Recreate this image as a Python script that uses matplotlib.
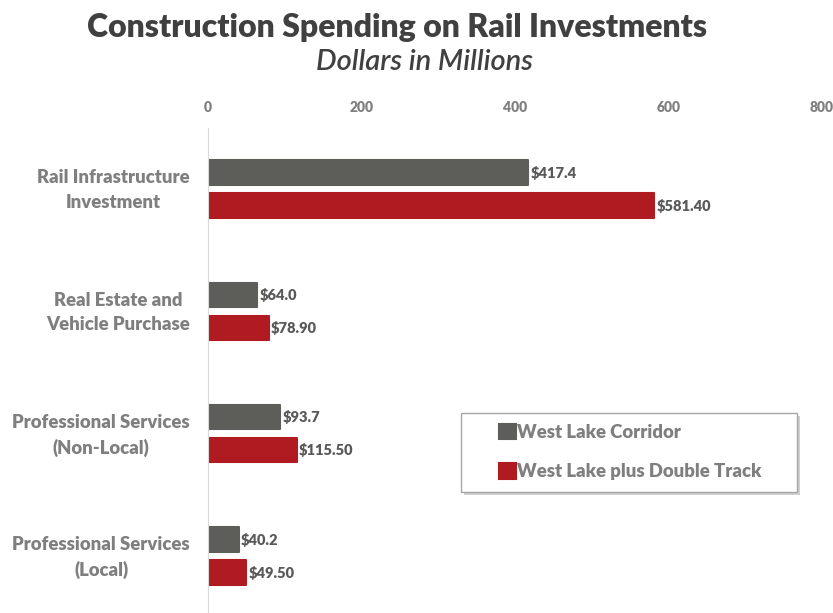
import numpy as np
import matplotlib.pyplot as plt
import matplotlib.transforms as mtransforms
from matplotlib.patches import Rectangle

plt.rcParams['font.family'] = ['Lato', 'DejaVu Sans']

categories = ['Rail Infrastructure\nInvestment',
              'Real Estate and\nVehicle Purchase',
              'Professional Services\n(Non-Local)',
              'Professional Services\n(Local)']
corridor = [417.4, 64.0, 93.7, 40.2]
double_track = [581.40, 78.90, 115.50, 49.50]
series_names = ['West Lake Corridor', 'West Lake plus Double Track']
xticks = [0, 200, 400, 600, 800]

gray = '#5d5e59'
red = '#b01a21'
label_gray = '#7f7f7f'
dark = '#595959'
wt = 'heavy'

W, H = 833, 613
fig = plt.figure(figsize=(W / 100, H / 100), dpi=100)
ax = fig.add_axes([208 / W, 0.0, 614 / W, 485 / H])

y = np.arange(len(categories))
h = 0.2
off = 0.135

b1 = ax.barh(y - off, corridor, height=h, color=gray, edgecolor=gray,
             linewidth=1.5, label=series_names[0])
b2 = ax.barh(y + off, double_track, height=h, color=red, edgecolor=red,
             linewidth=1.5, label=series_names[1])
for p in list(b1) + list(b2):
    p.set_joinstyle('round')

for v, yy in zip(corridor, y - off):
    ax.text(v + 3, yy, f'${v:.1f}', va='center', ha='left',
            fontsize=10.5, fontweight=wt, color=dark)
for v, yy in zip(double_track, y + off):
    ax.text(v + 3, yy, f'${v:.2f}', va='center', ha='left',
            fontsize=10.5, fontweight=wt, color=dark)

ax.set_xlim(0, 800)
ax.set_ylim(3.466, -0.5)
ax.set_xticks(xticks)
ax.set_xticklabels([str(t) for t in xticks], fontweight=wt)
ax.xaxis.tick_top()
ax.tick_params(axis='x', length=0, pad=10, labelsize=10, labelcolor=label_gray)
ax.set_yticks(y)
ax.set_yticklabels(categories, fontsize=13.3, fontweight=wt,
                   color=label_gray, ha='right', multialignment='center',
                   linespacing=1.55)
ax.tick_params(axis='y', length=0, pad=13)
shift = mtransforms.ScaledTranslation(0, 3 / 72, fig.dpi_scale_trans)
for lab in ax.get_yticklabels():
    lab.set_transform(lab.get_transform() + shift)

for s in ['top', 'right', 'bottom']:
    ax.spines[s].set_visible(False)
ax.spines['left'].set_color('#d9d9d9')

fig.text(397 / W, 1 - 27 / H, 'Construction Spending on Rail Investments',
         ha='center', va='center', fontsize=23, fontweight='heavy', color='#404040')
fig.text(424 / W, 1 - 62 / H, 'Dollars in Millions', ha='center', va='center',
         fontsize=21, style='italic', fontweight='semibold', color='#404040')

# legend box with soft shadow
fig.patches.append(Rectangle((464 / W, (H - 495) / H), 336 / W, 79 / H,
                             transform=fig.transFigure, facecolor='#d0d0d0',
                             edgecolor='none', zorder=1))
fig.patches.append(Rectangle((461 / W, (H - 492) / H), 336 / W, 79 / H,
                             transform=fig.transFigure, facecolor='white',
                             edgecolor='#a6a6a6', linewidth=1, zorder=2))

leg = fig.legend(handles=[b1, b2], loc='upper left',
                 bbox_to_anchor=(499 / W, 1 - 424 / H),
                 frameon=False, fontsize=13.3,
                 handlelength=0.9, handleheight=0.9, handletextpad=0.1,
                 labelspacing=1.2, borderpad=0, borderaxespad=0)
leg.set_zorder(3)
for t in leg.get_texts():
    t.set_color(label_gray)
    t.set_fontweight(wt)

fig.savefig('out.png', dpi=100)
